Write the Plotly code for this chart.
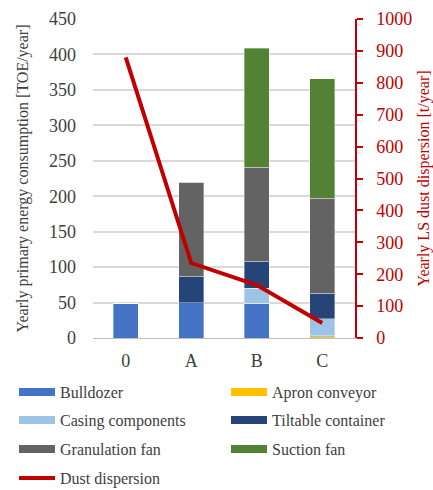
import plotly.graph_objects as go

# Scenarios on the x axis
scenarios = ["0", "A", "B", "C"]

# Yearly primary energy consumption per component [TOE/year]
bulldozer = [49, 50, 49, 1]
apron_conveyor = [0, 0, 0, 2]
casing_components = [0, 0, 21, 24]
tiltable_container = [0, 37, 38, 36]
granulation_fan = [0, 133, 133, 134]
suction_fan = [0, 0, 168, 169]

# Yearly LS dust dispersion [t/year]
dust_dispersion = [880, 235, 166, 47]

series = [
    ("Bulldozer", bulldozer, "#4472C4"),
    ("Apron conveyor", apron_conveyor, "#FFC000"),
    ("Casing components", casing_components, "#9DC3E6"),
    ("Tiltable container", tiltable_container, "#264478"),
    ("Granulation fan", granulation_fan, "#636363"),
    ("Suction fan", suction_fan, "#548235"),
]

FONT = "Liberation Serif"
RED = "#C00000"
TXT = "#404040"

# page geometry (px)
W, H = 433, 490
ML, MR, MT, MB = 93, 78, 19, 152
plot_w = W - ML - MR
plot_h = H - MT - MB

# one legend per entry, laid out as a 2-column grid below the plot
legend_names = ["legend", "legend2", "legend3", "legend4", "legend5", "legend6", "legend7"]
col_px = [14, 226]
row_px = [392, 420, 449, 478]

def leg(i):
    row, col = divmod(i, 2)
    return dict(
        orientation="h",
        x=(col_px[col] - ML) / plot_w, xanchor="left",
        y=(H - MB - row_px[row]) / plot_h, yanchor="middle",
        font=dict(family=FONT, size=16, color=TXT),
        itemwidth=36, bgcolor="rgba(0,0,0,0)",
    )

fig = go.Figure()

for i, (name, vals, color) in enumerate(series):
    fig.add_trace(go.Bar(
        x=scenarios, y=vals, name=name,
        marker=dict(color=color, line=dict(color="rgba(255,255,255,0.6)", width=0.6)),
        width=0.38, showlegend=False,
    ))
    # wide rectangular legend swatch
    fig.add_trace(go.Scatter(
        x=[None], y=[None], mode="lines", name=name,
        line=dict(color=color, width=8), showlegend=True, legend=legend_names[i],
    ))

fig.add_trace(go.Scatter(
    x=scenarios, y=dust_dispersion, name="Dust dispersion",
    mode="lines", line=dict(color=RED, width=4), yaxis="y2",
    legend=legend_names[6],
))

dust_axis = dict(range=[0, 1000], dtick=100, showgrid=False, zeroline=False)

fig.update_layout(
    barmode="stack",
    width=W, height=H,
    margin=dict(l=ML, r=MR, t=MT, b=MB, autoexpand=False),
    paper_bgcolor="white", plot_bgcolor="white",
    font=dict(family=FONT, size=16, color=TXT),
    xaxis=dict(
        showline=True, linecolor="#BFBFBF", linewidth=1,
        ticks="", tickfont=dict(size=18, color=TXT),
        ticklabelstandoff=6,
    ),
    yaxis=dict(
        range=[0, 450], dtick=50,
        showgrid=True, gridcolor="#D9D9D9", gridwidth=1.5,
        zeroline=False, showline=False, ticks="",
        tickfont=dict(size=18, color=TXT), ticklabelstandoff=16,
        title=dict(text="Yearly primary energy consumption [TOE/year]",
                   font=dict(size=16, color=TXT), standoff=16),
    ),
    yaxis2=dict(
        overlaying="y", side="right", **dust_axis,
        showline=True, linecolor=RED, linewidth=1.5,
        ticks="outside", ticklen=6, tickcolor=RED, tickwidth=1.5,
        tickfont=dict(size=18, color=RED), ticklabelstandoff=10,
        title=dict(text="Yearly LS dust dispersion [t/year]",
                   font=dict(size=16, color=RED), standoff=6),
    ),
    # inner half of the cross-style tick marks on the dust axis
    yaxis3=dict(
        overlaying="y", side="right", **dust_axis,
        showline=False, showticklabels=False,
        ticks="inside", ticklen=6, tickcolor=RED, tickwidth=1.5,
    ),
    **{name: leg(i) for i, name in enumerate(legend_names)},
)

fig.write_html("out.html")
